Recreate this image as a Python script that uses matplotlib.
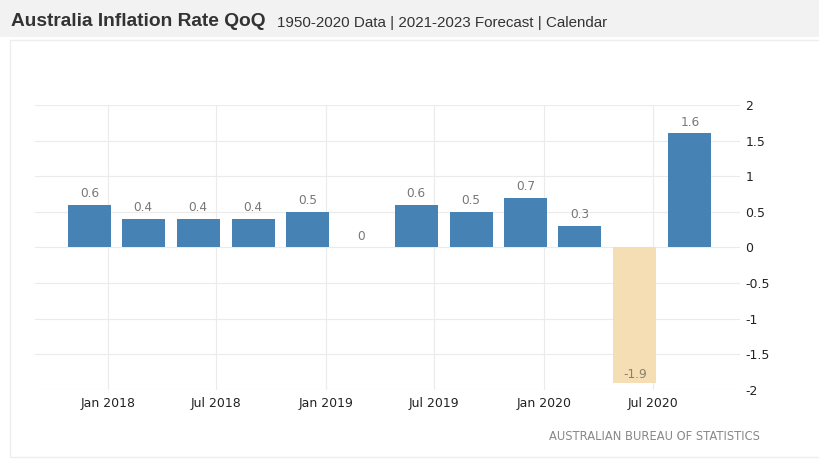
import pandas as pd
import matplotlib.pyplot as plt
import matplotlib.dates as mdates
from matplotlib.patches import Rectangle

# quarterly inflation rate (QoQ, %), bar placed at first day of the quarter's last month
quarters = ['2017-12', '2018-03', '2018-06', '2018-09', '2018-12', '2019-03',
            '2019-06', '2019-09', '2019-12', '2020-03', '2020-06', '2020-09']
values = [0.6, 0.4, 0.4, 0.4, 0.5, 0.0, 0.6, 0.5, 0.7, 0.3, -1.9, 1.6]
y_ticks = [2, 1.5, 1, 0.5, 0, -0.5, -1, -1.5, -2]
x_ticks = ['2018-01', '2018-07', '2019-01', '2019-07', '2020-01', '2020-07']

dates = pd.to_datetime(quarters)
xnum = mdates.date2num(dates)
colors = ['#4682b4' if v >= 0 else '#f5deb3' for v in values]

fig = plt.figure(figsize=(8.2, 4.62), dpi=100)
fig.patch.set_facecolor('white')
# grey header band and faint panel border
fig.add_artist(Rectangle((0, 1 - 37 / 462), 1, 37 / 462, transform=fig.transFigure,
                         facecolor='#f2f2f2', edgecolor='none', zorder=0))
fig.add_artist(Rectangle((10 / 820, 5 / 462), 1 - 10 / 820, 1 - 37 / 462 - 5 / 462 - 3 / 462,
                         transform=fig.transFigure, facecolor='none',
                         edgecolor='#eeeeee', lw=1, zorder=0))

t = fig.text(11 / 820, 1 - 26 / 462, 'Australia Inflation Rate QoQ', fontsize=13.8,
             fontweight='bold', color='#333333', family='Liberation Sans', va='baseline')
fig.add_artist(plt.Annotation('1950-2020 Data | 2021-2023 Forecast | Calendar',
                              xy=(1, 0), xycoords=t, xytext=(8, 0), textcoords='offset points',
                              fontsize=10.9, color='#333333', family='Liberation Sans',
                              va='bottom'))

ax = fig.add_axes([35 / 820, 1 - 390 / 462, (740 - 35) / 820, (390 - 105) / 462])
ax.set_facecolor('white')
ax.bar(xnum, values, width=72, color=colors, zorder=2)

for x, v in zip(xnum, values):
    if v >= 0:
        ax.annotate(f'{v:g}', (x, v), xytext=(0, 3.5), textcoords='offset points',
                    ha='center', va='bottom', fontsize=8.7, color='#777777')
    else:
        ax.annotate(f'{v:g}', (x, v), xytext=(0, 1), textcoords='offset points',
                    ha='center', va='bottom', fontsize=8.7, color='#8a8070')

ax.set_xlim(mdates.date2num(pd.Timestamp('2017-09-01')), mdates.date2num(pd.Timestamp('2020-11-24')))
ax.set_ylim(-2, 2)
ax.set_xticks(mdates.date2num(pd.to_datetime(x_ticks)))
ax.set_xticklabels([pd.Timestamp(d).strftime('%b %Y') for d in x_ticks])
ax.set_yticks(y_ticks)
ax.set_yticklabels([f'{v:g}' for v in y_ticks])
ax.yaxis.tick_right()
ax.tick_params(axis='both', length=0, labelsize=9, colors='#222222')
ax.tick_params(axis='y', pad=4)
ax.tick_params(axis='x', pad=5)
ax.grid(True, color='#ebebeb', lw=0.8, zorder=0)
for s in ax.spines.values():
    s.set_visible(False)

fig.text(760 / 820, 1 - 436 / 462, 'AUSTRALIAN BUREAU OF STATISTICS', fontsize=8.3,
         color='#888888', ha='right', va='center')

fig.savefig('out.png', dpi=100)
